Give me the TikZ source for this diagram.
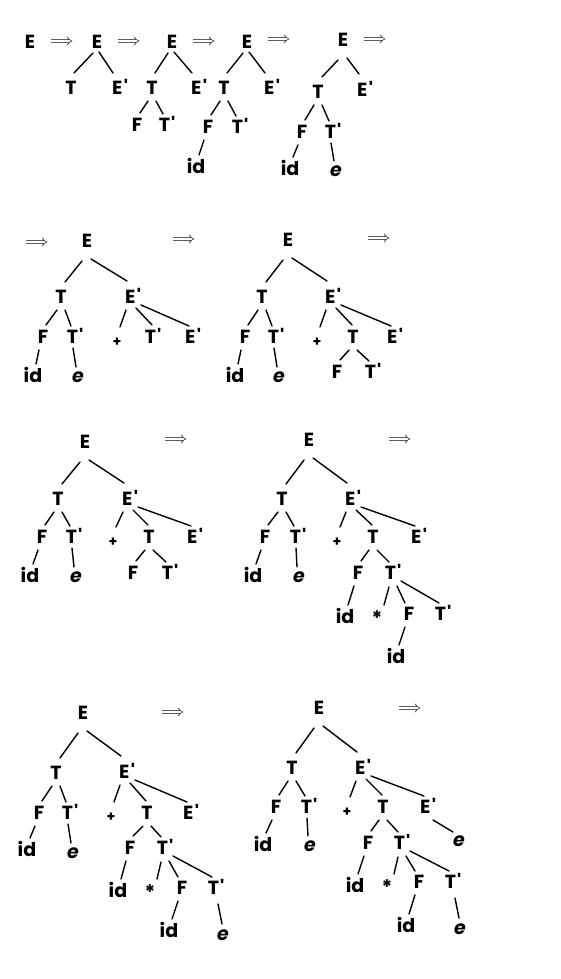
\documentclass[tikz,border=0pt]{standalone}
\usepackage{fontspec}
\newfontfamily\tf{Poppins}
\newfontfamily\lmm{Latin Modern Math}
\tikzset{
  n/.style={font=\tf\fontsize{19}{22}\selectfont\bfseries, inner sep=0pt, text height=13pt, text depth=0pt},
  sm/.style={font=\tf\fontsize{14}{16}\selectfont\bfseries, inner sep=0pt, text height=13pt, text depth=0pt},
  st/.style={font=\tf\fontsize{20}{22}\selectfont\bfseries, inner sep=0pt, text height=13pt, text depth=0pt},
  ar/.style={font=\lmm\fontsize{16}{18}\selectfont, inner sep=0pt},
  ed/.style={line width=1.4pt, line cap=round}
}
\newcommand\edg[4]{\draw[ed] ([shift={(#3)}]#1.center) -- ([shift={(#4)}]#2.center);}
\newcommand\eL[2]{\edg{#1}{#2}{-4,13}{3,-12}}
\newcommand\eR[2]{\edg{#1}{#2}{4,13}{-4,-11}}
\newcommand\eV[2]{\edg{#1}{#2}{-2,11}{-2,-9}}
\newcommand\eP[2]{\edg{#1}{#2}{-7,13}{3,-13}}
\newcommand\eT[2]{\edg{#1}{#2}{3,11}{-1,-12}}
\newcommand\eE[2]{\edg{#1}{#2}{8,8}{-4,-11}}
\newcommand\eS[2]{\edg{#1}{#2}{-4,14}{7,-14}}
\newcommand\eD[2]{\edg{#1}{#2}{5,13}{-6,-8}}
\newcommand\rL[2]{\edg{#1}{#2}{-5,20}{4,-15}}
\newcommand\rR[2]{\edg{#1}{#2}{4,18}{-6,-16}}
\newcommand\sL[2]{\edg{#1}{#2}{-4,11}{3,-15}}
\newcommand\sR[2]{\edg{#1}{#2}{2,10}{-7,-15}}
\newcommand\arr{⟹}
\newcommand\Ep{E\kern1.5pt'}
\newcommand\Tp{T\kern1pt'}
\begin{document}
\begin{tikzpicture}[x=1pt,y=-1pt]
\fill[white] (0,0) rectangle (560,979);
\useasboundingbox (0,0) rectangle (560,979);
% ---------- row 1 ----------
\node[n] (a0) at (30,42) {E};
\node[ar] (r1) at (62,42) {\arr};
\node[n] (b0) at (97,42) {E};
\node[n] (b1) at (71,88) {T};
\node[n] (b2) at (120,88) {\Ep};
\sL{b0}{b1} \sR{b0}{b2}
\node[ar] (r2) at (129,42) {\arr};
\node[n] (c0) at (172,42) {E};
\node[n] (c1) at (152,88) {T};
\node[n] (c2) at (199,88) {\Ep};
\node[n] (c3) at (137,125) {F};
\node[n] (c4) at (167,125) {\Tp};
\sL{c0}{c1} \sR{c0}{c2} \eL{c1}{c3} \eR{c1}{c4}
\node[ar] (r3) at (204,42) {\arr};
\node[n] (d0) at (247,42) {E};
\node[n] (d1) at (224,88) {T};
\node[n] (d2) at (272,88) {\Ep};
\node[n] (d3) at (208,127) {F};
\node[n] (d4) at (240,127) {\Tp};
\node[n] (d5) at (196,167) {id};
\sL{d0}{d1} \sR{d0}{d2} \eL{d1}{d3} \eR{d1}{d4} \eL{d3}{d5}
\node[ar] (r4) at (279,40) {\arr};
\node[n] (e0) at (343,40) {E};
\node[n] (e1) at (318,92) {T};
\node[n] (e2) at (365,90) {\Ep};
\node[n] (e3) at (302,132) {F};
\node[n] (e4) at (333,132) {\Tp};
\node[n] (e5) at (290,169) {id};
\node[n] (e6) at (336,170) {\itshape e};
\rL{e0}{e1} \rR{e0}{e2} \eL{e1}{e3} \eR{e1}{e4} \eL{e3}{e5} \eV{e4}{e6}
\node[ar] (r5) at (375,40) {\arr};
% ---------- row 2 ----------
\node[ar] (r6) at (37,242) {\arr};
\node[n] (f0) at (87,241) {E};
\node[n] (f1) at (61,297) {T};
\node[n] (f2) at (133,297) {\Ep};
\node[n] (f3) at (43,337) {F};
\node[n] (f4) at (75,337) {\Tp};
\node[sm] (f5) at (117,340) {+};
\node[n] (f6) at (153,337) {\Tp};
\node[n] (f7) at (193,337) {\Ep};
\node[n] (f8) at (33,376) {id};
\node[n] (f9) at (78,376) {\itshape e};
\rL{f0}{f1} \rR{f0}{f2} \eL{f1}{f3} \eR{f1}{f4} \eP{f2}{f5} \eT{f2}{f6} \eE{f2}{f7} \eL{f3}{f8} \eV{f4}{f9}
\node[ar] (r7) at (184,239) {\arr};
\node[n] (g0) at (288,240) {E};
\node[n] (g1) at (262,297) {T};
\node[n] (g2) at (333,297) {\Ep};
\node[n] (g3) at (245,337) {F};
\node[n] (g4) at (276,337) {\Tp};
\node[sm] (g5) at (317,340) {+};
\node[n] (g6) at (353,337) {T};
\node[n] (g7) at (395,337) {\Ep};
\node[n] (g8) at (235,376) {id};
\node[n] (g9) at (279,376) {\itshape e};
\node[n] (g10) at (337,372) {F};
\node[n] (g11) at (373,372) {\Tp};
\rL{g0}{g1} \rR{g0}{g2} \eL{g1}{g3} \eR{g1}{g4} \eP{g2}{g5} \eT{g2}{g6} \eE{g2}{g7} \eL{g3}{g8} \eV{g4}{g9}
\eL{g6}{g10} \eR{g6}{g11}
\node[ar] (r8) at (379,238) {\arr};
% ---------- row 3 ----------
\node[n] (h0) at (85,442) {E};
\node[n] (h1) at (58,499) {T};
\node[n] (h2) at (130,499) {\Ep};
\node[n] (h3) at (42,537) {F};
\node[n] (h4) at (74,537) {\Tp};
\node[sm] (h5) at (113,540) {+};
\node[n] (h6) at (149,537) {T};
\node[n] (h7) at (195,537) {\Ep};
\node[n] (h8) at (30,576) {id};
\node[n] (h9) at (76,576) {\itshape e};
\node[n] (h10) at (133,573) {F};
\node[n] (h11) at (170,573) {\Tp};
\rL{h0}{h1} \rR{h0}{h2} \eL{h1}{h3} \eR{h1}{h4} \eP{h2}{h5} \eT{h2}{h6} \eE{h2}{h7} \eL{h3}{h8} \eV{h4}{h9}
\eL{h6}{h10} \eR{h6}{h11}
\node[ar] (r9) at (176,439) {\arr};
\node[n] (i0) at (309,440) {E};
\node[n] (i1) at (282,499) {T};
\node[n] (i2) at (353,499) {\Ep};
\node[n] (i3) at (265,537) {F};
\node[n] (i4) at (298,537) {\Tp};
\node[sm] (i5) at (337,540) {+};
\node[n] (i6) at (373,537) {T};
\node[n] (i7) at (419,537) {\Ep};
\node[n] (i8) at (253,576) {id};
\node[n] (i9) at (299,576) {\itshape e};
\node[n] (i10) at (358,573) {F};
\node[n] (i11) at (393,573) {\Tp};
\node[n] (i12) at (345,617) {id};
\node[st] (i13) at (377,619) {*};
\node[n] (i14) at (409,614) {F};
\node[n] (i15) at (443,614) {\Tp};
\node[n] (i16) at (396,657) {id};
\rL{i0}{i1} \rR{i0}{i2} \eL{i1}{i3} \eR{i1}{i4} \eP{i2}{i5} \eT{i2}{i6} \eE{i2}{i7} \eL{i3}{i8} \eV{i4}{i9}
\eL{i6}{i10} \eR{i6}{i11} \eL{i10}{i12} \eS{i11}{i13} \eR{i11}{i14} \eE{i11}{i15} \eL{i14}{i16}
\node[ar] (r10) at (400,439) {\arr};
% ---------- row 4 ----------
\node[n] (j0) at (83,713) {E};
\node[n] (j1) at (56,773) {T};
\node[n] (j2) at (127,772) {\Ep};
\node[n] (j3) at (39,813) {F};
\node[n] (j4) at (70,813) {\Tp};
\node[sm] (j5) at (111,815) {+};
\node[n] (j6) at (147,813) {T};
\node[n] (j7) at (191,813) {\Ep};
\node[n] (j8) at (27,850) {id};
\node[n] (j9) at (73,852) {\itshape e};
\node[n] (j10) at (130,848) {F};
\node[n] (j11) at (165,848) {\Tp};
\node[n] (j12) at (118,891) {id};
\node[st] (j13) at (150,893) {*};
\node[n] (j14) at (182,888) {F};
\node[n] (j15) at (216,888) {\Tp};
\node[n] (j16) at (169,931) {id};
\node[n] (j17) at (223,934) {\itshape e};
\rL{j0}{j1} \rR{j0}{j2} \eL{j1}{j3} \eR{j1}{j4} \eP{j2}{j5} \eT{j2}{j6} \eE{j2}{j7} \eL{j3}{j8} \eV{j4}{j9}
\eL{j6}{j10} \eR{j6}{j11} \eL{j10}{j12} \eS{j11}{j13} \eR{j11}{j14} \eE{j11}{j15} \eL{j14}{j16}
\edg{j15}{j17}{2,16}{-1,-10}
\node[ar] (r11) at (173,712) {\arr};
\node[n] (k0) at (319,708) {E};
\node[n] (k1) at (292,768) {T};
\node[n] (k2) at (363,768) {\Ep};
\node[n] (k3) at (276,807) {F};
\node[n] (k4) at (309,807) {\Tp};
\node[sm] (k5) at (347,810) {+};
\node[n] (k6) at (383,807) {T};
\node[n] (k7) at (428,807) {\Ep};
\node[n] (k8) at (263,845) {id};
\node[n] (k9) at (310,845) {\itshape e};
\node[n] (k10) at (368,843) {F};
\node[n] (k11) at (402,843) {\Tp};
\node[n] (k12) at (459,840) {\itshape e};
\node[n] (k13) at (355,886) {id};
\node[st] (k14) at (387,888) {*};
\node[n] (k15) at (419,882) {F};
\node[n] (k16) at (453,882) {\Tp};
\node[n] (k17) at (406,926) {id};
\node[n] (k18) at (460,928) {\itshape e};
\rL{k0}{k1} \rR{k0}{k2} \eL{k1}{k3} \eR{k1}{k4} \eP{k2}{k5} \eT{k2}{k6} \eE{k2}{k7} \eL{k3}{k8} \eV{k4}{k9}
\eL{k6}{k10} \eR{k6}{k11} \eD{k7}{k12} \eL{k10}{k13} \eS{k11}{k14} \eR{k11}{k15} \eE{k11}{k16} \eL{k15}{k17}
\edg{k16}{k18}{2,16}{-1,-10}
\node[ar] (r12) at (410,708) {\arr};
\end{tikzpicture}
\end{document}
